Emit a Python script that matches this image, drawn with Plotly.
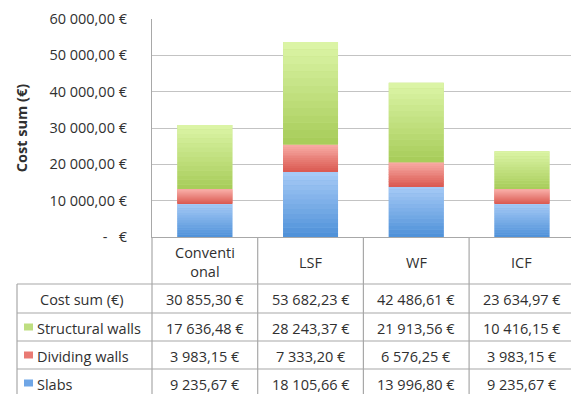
import plotly.graph_objects as go

# ---- data -------------------------------------------------------------
categories = ["Conventional", "LSF", "WF", "ICF"]
header_labels = ["Conventi<br>onal", "LSF", "WF", "ICF"]
slabs = [9235.67, 18105.66, 13996.80, 9235.67]
dividing_walls = [3983.15, 7333.20, 6576.25, 3983.15]
structural_walls = [17636.48, 28243.37, 21913.56, 10416.15]
y_ticks = [0, 10000, 20000, 30000, 40000, 50000, 60000]

# ---- helpers ----------------------------------------------------------
W, H = 571, 394
ML, MR, MT, MB = 152, 0, 19, 157
PW, PH = W - ML - MR, H - MT - MB
FONT = "Open Sans"
FS = 14.5
TXT = "#303030"
GRID = "#c3c3c3"
LINE = "#a8a8a8"


def eur(v):
    if v == 0:
        return "-   €"
    s = f"{v:,.2f}".replace(",", " ").replace(".", ",")
    return s + " €"


def py(p):
    """pixel row -> paper y"""
    return (MT + PH - p) / PH


def px(p):
    """pixel column -> paper x"""
    return (p - ML) / PW


def mix(c1, c2, t):
    a = [int(c1[i:i + 2], 16) for i in (1, 3, 5)]
    b = [int(c2[i:i + 2], 16) for i in (1, 3, 5)]
    return "rgb(%d,%d,%d)" % tuple(round(a[k] + (b[k] - a[k]) * t) for k in range(3))


totals = [a + b + c for a, b, c in zip(slabs, dividing_walls, structural_walls)]

# series: (name, values, top colour, bottom colour, key colour)
series = [
    ("Slabs", slabs, "#a9ccf7", "#4d90d8", "#6fa6e6"),
    ("Dividing walls", dividing_walls, "#f8aca5", "#da5850", "#e97a73"),
    ("Structural walls", structural_walls, "#ddf5a8", "#a6cc58", "#bede80"),
]

fig = go.Figure()
BAR_W = 0.52
N_SLICES = 14
base = [0.0] * len(categories)
for name, vals, top, bottom, key in series:
    # solid fill underneath, then a vertical gradient built from thin slices
    fig.add_trace(go.Bar(x=categories, y=vals, base=base, width=BAR_W,
                         marker=dict(color=mix(top, bottom, 0.5), line=dict(width=0)),
                         name=name, hoverinfo="skip"))
    for k in range(N_SLICES):
        t = 1 - (k + 0.5) / N_SLICES
        fig.add_trace(go.Bar(
            x=categories,
            y=[v / N_SLICES for v in vals],
            base=[b + v * k / N_SLICES for b, v in zip(base, vals)],
            width=BAR_W,
            marker=dict(color=mix(top, bottom, t), line=dict(width=0)),
            hoverinfo="skip", showlegend=False))
    base = [b + v for b, v in zip(base, vals)]

ncat = len(categories)
col_px = 105.7
x_end = (ncat - 0.5) - (ML + ncat * col_px - W) / col_px

fig.update_layout(
    width=W, height=H,
    margin=dict(l=ML, r=MR, t=MT, b=MB, pad=0),
    paper_bgcolor="white", plot_bgcolor="white",
    barmode="overlay", showlegend=False,
    font=dict(family=FONT, size=FS, color=TXT),
    xaxis=dict(type="category", range=[-0.5, x_end], showticklabels=False,
               showgrid=False, zeroline=False, showline=True,
               linecolor=LINE, linewidth=1.2, ticks=""),
    yaxis=dict(range=[0, 60000], tickvals=y_ticks,
               ticktext=[eur(v) for v in y_ticks],
               showgrid=True, gridcolor=GRID, gridwidth=1.2,
               zeroline=False, showline=True, linecolor=LINE, linewidth=1.2,
               ticks="", ticklabelstandoff=21,
               tickfont=dict(family=FONT, size=FS, color=TXT),
               title=dict(text="<b>Cost sum (€)</b>", standoff=18,
                          font=dict(family=FONT, size=FS, color=TXT))),
)

# ---- data table under the chart --------------------------------------
row_lines = [284, 313, 341, 369]
table_left = 17
line = dict(color=LINE, width=1.2)
for r in row_lines:
    fig.add_shape(type="line", xref="paper", yref="paper",
                  x0=px(table_left), x1=1, y0=py(r), y1=py(r), line=line)
fig.add_shape(type="line", xref="paper", yref="paper",
              x0=px(table_left), x1=px(table_left), y0=py(row_lines[0]), y1=py(H), line=line)
fig.add_shape(type="line", xref="paper", yref="paper",
              x0=0, x1=0, y0=0, y1=py(H), line=line)
for i in range(ncat - 1):
    fig.add_shape(type="line", xref="x", yref="paper",
                  x0=i + 0.5, x1=i + 0.5, y0=0, y1=py(H), line=line)

# header row with category names
for cat, lab in zip(categories, header_labels):
    fig.add_annotation(x=cat, xref="x", y=py(262), yref="paper", text=lab,
                       showarrow=False, xanchor="center", yanchor="middle",
                       font=dict(family=FONT, size=FS, color=TXT))

rows = [("Cost sum (€)", totals, None)] + [
    (name, vals, key) for name, vals, _, _, key in reversed(series)]
row_centres = [299.5, 328, 356, 384]
for (label, vals, key), yc in zip(rows, row_centres):
    if key is None:
        fig.add_annotation(x=px(82), xref="paper", y=py(yc), yref="paper",
                           text=label, showarrow=False, xanchor="center",
                           yanchor="middle")
    else:
        fig.add_shape(type="rect", xref="paper", yref="paper",
                      x0=px(24), x1=px(33), y0=py(yc - 4.5), y1=py(yc + 2.5),
                      line=dict(width=0), fillcolor=key)
        fig.add_annotation(x=px(35), xref="paper", y=py(yc), yref="paper",
                           text=label, showarrow=False, xanchor="left",
                           yanchor="middle")
    for cat, v in zip(categories, vals):
        fig.add_annotation(x=cat, xref="x", y=py(yc), yref="paper",
                           text=eur(v), showarrow=False, xanchor="center",
                           yanchor="middle")

fig.write_html("out.html")
